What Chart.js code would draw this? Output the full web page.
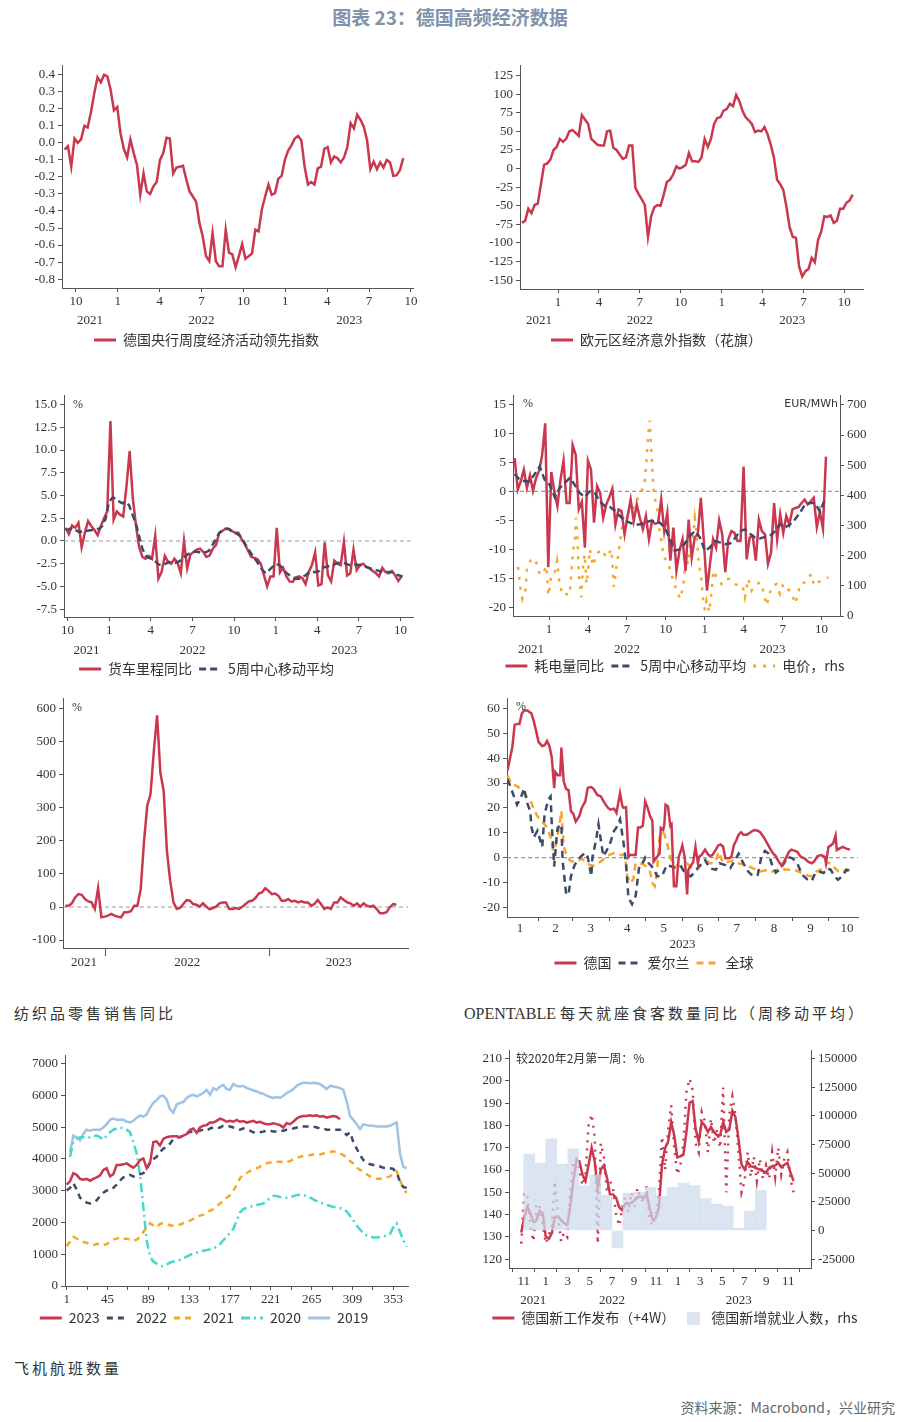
<!DOCTYPE html>
<html>
<head>
<meta charset="utf-8">
<script src="https://cdn.jsdelivr.net/npm/chart.js@4.4.0/dist/chart.umd.min.js"></script>
<style>
  body { margin: 0; width: 900px; height: 1422px; background: #fff; position: relative; font-family: "Noto Sans CJK SC", sans-serif; }
  .box { position: absolute; }
  .title { position: absolute; top: 3px; left: 0; width: 900px; text-align: center; font-size: 19px; font-weight: bold; color: #8092AD; }
  .cap { position: absolute; font-size: 15px; color: #333; letter-spacing: 3px; line-height: 20px; }
  .cap .lat { font-family: "Liberation Serif", serif; font-size: 16px; letter-spacing: 0; }
  .src { position: absolute; right: 5px; top: 1397px; font-size: 14px; color: #666; }
</style>
</head>
<body>
<div class="title">图表 23：德国高频经济数据</div>

<div class="box" style="left:0;top:55px;width:450px;height:302px"><canvas id="c1"></canvas></div>
<div class="box" style="left:450px;top:55px;width:450px;height:302px"><canvas id="c2"></canvas></div>
<div class="box" style="left:0;top:385px;width:450px;height:301px"><canvas id="c3"></canvas></div>
<div class="box" style="left:450px;top:385px;width:450px;height:298px"><canvas id="c4"></canvas></div>
<div class="box" style="left:0;top:688px;width:450px;height:300px"><canvas id="c5"></canvas></div>
<div class="box" style="left:450px;top:688px;width:450px;height:292px"><canvas id="c6"></canvas></div>
<div class="box" style="left:0;top:1045px;width:450px;height:290px"><canvas id="c7"></canvas></div>
<div class="box" style="left:450px;top:1040px;width:450px;height:295px"><canvas id="c8"></canvas></div>

<div class="cap" style="left:14px;top:1003px">纺织品零售销售同比</div>
<div class="cap" style="left:464px;top:1003px"><span class="lat">OPENTABLE </span>每天就座食客数量同比（周移动平均）</div>
<div class="cap" style="left:14px;top:1358px">飞机航班数量</div>
<div class="src">资料来源：Macrobond，兴业研究</div>

<script>
// 색상
const RED = "#C9384E";
const NAVY = "#3B4C6B";
const ORANGE = "#F5A72C";
const CYAN = "#47D7CC";
const LBLUE = "#9EC3E4";
const BAR = "rgba(205,219,237,0.72)";
const AXIS = "#555";

/* x축 단위: 월 (0 = 2021년 1월) */

// 1. 德国央行周度经济活动领先指数 (weekly)
const p1Start = 8.19, p1End = 32.45;
const p1Vals = [-0.04,-0.02,-0.14,0.025,0.0,0.02,0.10,0.09,0.18,0.29,0.385,0.355,0.40,0.39,0.31,0.19,0.21,0.055,-0.035,-0.085,0.02,-0.06,-0.13,-0.305,-0.18,-0.285,-0.30,-0.255,-0.23,-0.10,-0.06,0.03,0.025,-0.18,-0.145,-0.14,-0.135,-0.215,-0.285,-0.315,-0.345,-0.47,-0.55,-0.665,-0.695,-0.53,-0.695,-0.725,-0.725,-0.51,-0.645,-0.655,-0.73,-0.665,-0.595,-0.68,-0.665,-0.65,-0.51,-0.52,-0.39,-0.315,-0.245,-0.305,-0.295,-0.21,-0.195,-0.10,-0.045,-0.015,0.025,0.04,0.015,-0.14,-0.245,-0.23,-0.245,-0.15,-0.14,-0.035,-0.025,-0.115,-0.08,-0.09,-0.115,-0.085,-0.025,0.115,0.085,0.165,0.135,0.095,0.015,-0.155,-0.11,-0.155,-0.115,-0.145,-0.10,-0.115,-0.195,-0.19,-0.16,-0.09];
const p1YTicks = [-0.8,-0.7,-0.6,-0.5,-0.4,-0.3,-0.2,-0.1,0,0.1,0.2,0.3,0.4];
const p1XTicks = [9,12,15,18,21,24,27,30,33];

// 2. 欧元区经济意外指数（花旗）
const p2Start = 9.36, p2End = 33.61;
const p2Vals = [-73,-70,-54,-60,-49,-47,-21,5,7,12,25,29,40,36,40,50,52,48,44,72,66,60,40,36,32,31,31,50,51,28,25,19,13,15,31,31,-26,-34,-41,-49,-92,-64,-52,-49,-50,-35,-18,-15,-8,3,0,2,5,21,10,10,9,15,40,29,40,60,68,69,78,80,87,84,99,91,78,69,65,60,49,51,50,56,46,32,15,-15,-21,-29,-52,-79,-92,-93,-132,-145,-138,-135,-120,-126,-96,-85,-64,-65,-63,-73,-70,-54,-54,-46,-43,-35];
const p2YTicks = [-150,-125,-100,-75,-50,-25,0,25,50,75,100,125];
const p2XTicks = [12,15,18,21,24,27,30,33];

// 3. 货车里程同比 / 5周中心移动平均
const p3Start = 8.86, p3End = 33.07, p3MaEnd = 33.15;
const p3Truck = [1.45,0.75,1.7,1.45,2.0,-0.7,0.9,2.2,1.65,1.2,0.65,1.65,2.5,3.25,13.2,2.35,3.25,2.9,2.7,5.95,9.9,4.7,1.65,-0.7,-1.75,-1.95,-1.65,-1.95,0.55,-4.15,-3.4,-1.65,-2.3,-2.5,-1.95,-2.4,-3.55,0.0,-3.0,-1.5,-1.2,-0.95,-0.85,-1.2,-1.75,-1.6,-0.85,-0.45,0.9,1.1,1.35,1.35,1.1,0.9,0.9,0.2,-0.35,-1.05,-1.75,-1.85,-2.0,-2.5,-3.75,-5.0,-3.9,-3.9,1.45,-3.45,-2.95,-3.9,-4.45,-4.5,-4.0,-3.9,-4.1,-4.75,-3.4,-2.65,-1.25,-4.9,-4.75,-0.15,-3.75,-4.45,-2.15,-2.5,-2.65,-0.1,-3.8,-3.55,-0.95,-3.2,-2.65,-2.5,-2.85,-3.0,-3.3,-3.55,-3.9,-2.95,-3.4,-3.55,-3.3,-3.75,-4.4,-3.9];
const p3Ma = [1.2,1.3,1.45,1.2,1.0,1.05,1.1,1.15,1.2,1.3,1.35,1.65,2.5,4.3,4.75,4.7,4.35,4.15,4.3,3.95,2.9,2.0,0.55,-0.85,-1.6,-1.85,-2.0,-2.3,-2.6,-2.65,-2.5,-2.3,-2.4,-2.4,-2.25,-1.95,-1.6,-1.4,-1.25,-1.15,-1.25,-1.25,-1.25,-1.05,-0.45,0.2,0.85,1.2,1.35,1.3,1.0,0.85,0.65,0.2,-0.45,-1.05,-1.6,-2.1,-2.65,-3.2,-3.55,-3.2,-2.85,-2.5,-2.65,-2.95,-3.45,-3.75,-4.0,-4.15,-4.15,-3.9,-3.75,-3.4,-3.4,-3.4,-3.3,-2.95,-2.85,-2.75,-2.65,-2.5,-2.4,-2.4,-2.5,-2.65,-2.65,-2.6,-2.65,-2.75,-2.85,-2.95,-3.1,-3.2,-3.3,-3.4,-3.4,-3.4,-3.45,-3.7,-3.8,-3.9];
const p3YTicks = [-7.5,-5,-2.5,0,2.5,5,7.5,10,12.5,15];
const p3XTicks = [9,12,15,18,21,24,27,30,33];

// 4. 耗电量同比 / 5周中心移动平均 / 电价 (rhs)
const p4Start = 9.35, p4End = 33.34, p4MaEnd = 33.26;
const p4Power = [5.75,0.3,1.75,3.75,0.6,2.75,0.1,2.3,3.55,6.3,11.75,-13.1,3.35,0.0,-2.55,2.0,5.3,-2.0,-2.0,8.0,6.3,-3.1,-1.8,-9.7,5.3,3.75,-5.4,0.9,-0.25,-4.55,-2.25,-1.0,0.45,-5.7,-3.1,-3.4,-7.4,-4.25,-1.4,-5.1,-2.25,-4.55,-6.55,-4.25,-8.25,-5.1,-5.6,-5.4,-1.4,-6.85,-3.7,-11.95,-6.25,-13.7,-10.25,-8.25,-13.7,-4.85,-11.4,-7.95,-7.4,-1.1,-8.8,-17.1,-12.5,-8.25,-9.7,-5.0,-7.4,-13.95,-8.25,-6.85,-7.15,-8.55,-8.55,4.3,-11.7,-7.95,-7.7,-11.95,-4.85,-6.85,-7.4,-12.5,-10.55,-2.0,-8.25,-3.95,-7.15,-4.25,-5.7,-3.1,-2.85,-2.7,-2.0,-1.4,-2.25,-1.7,-1.1,-6.15,-3.5,-6.4,6.0];
const p4Ma = [3.0,2.0,1.75,1.75,3.0,4.3,2.0,1.15,-1.0,0.6,1.45,2.3,1.15,-0.25,-1.0,0.0,-0.25,-1.7,-2.55,-2.7,-3.3,-4.25,-5.0,-5.4,-5.7,-5.7,-5.4,-5.1,-5.1,-5.4,-6.25,-8.25,-10.25,-9.95,-9.0,-7.7,-6.85,-7.95,-10.25,-9.7,-8.55,-8.8,-9.1,-9.0,-8.1,-6.85,-6.55,-7.3,-7.95,-8.1,-7.85,-7.7,-6.85,-5.7,-6.25,-5.7,-4.85,-3.7,-2.25,-2.0,-2.0,-3.5,-1.4];
const p4PriceMonths = [9.61,9.79,9.94,10.20,10.30,10.56,10.82,11.07,11.28,11.54,11.79,11.95,12.18,12.44,12.62,12.82,13.08,13.34,13.59,13.72,13.85,13.98,14.06,14.16,14.29,14.49,14.62,14.75,14.88,15.01,15.14,15.39,15.65,16.04,16.42,16.81,16.99,17.19,17.32,17.58,17.71,17.96,18.22,18.48,18.74,18.99,19.25,19.38,19.51,19.64,19.76,19.89,20.02,20.15,20.33,20.48,20.64,20.84,21.10,21.36,21.56,21.82,22.08,22.33,22.54,22.72,22.85,23.11,23.23,23.36,23.49,23.62,23.75,23.88,24.01,24.13,24.34,24.52,24.65,24.90,25.29,25.55,25.93,26.32,26.58,26.91,27.09,27.35,27.60,27.86,28.25,28.50,28.76,28.97,29.15,29.53,29.79,30.05,30.35,30.69,30.95,31.20,31.33,31.72,31.97,32.23,32.41,32.75,33.00,33.52];
const p4Price = [163,93,57,90,161,183,192,172,137,141,166,68,139,145,183,101,68,73,71,145,216,249,325,287,139,62,166,205,106,150,221,166,205,221,194,221,97,166,199,281,325,303,364,358,380,407,424,451,517,599,648,544,435,391,358,292,254,194,183,150,117,87,57,95,194,172,227,265,325,281,194,156,117,51,19,51,13,79,150,130,106,123,123,106,101,101,62,123,84,101,112,84,35,68,97,106,73,106,90,79,41,71,106,112,128,139,101,112,119,128];
const p4YTicks = [-20,-15,-10,-5,0,5,10,15];
const p4Y1Ticks = [0,100,200,300,400,500,600,700];
const p4XTicks = [12,15,18,21,24,27,30,33];

// 5. 纺织品零售销售同比
const p5Start = 9.08, p5End = 33.3;
const p5Vals = [4,4,11,29,39,37,24,17,14,-6,57,-31,-29,-26,-21,-26,-29,-31,-16,-16,-13,4,4,54,198,307,342,471,580,406,352,168,79,14,-6,-3,9,21,19,9,7,1,11,1,-7,-3,1,11,14,14,-6,-6,-3,-6,1,9,17,19,27,41,44,57,49,39,41,34,19,19,24,17,19,14,17,14,14,4,9,21,9,-6,-1,-6,14,14,29,21,14,11,4,11,1,11,4,1,4,-6,-19,-19,-16,-1,9,7];
const p5YTicks = [-100,0,100,200,300,400,500,600];
const p5XTicks = [12,24];

// 6. OpenTable (day of year 2023)
const p6DeDays = [6,8,10,12,14,16,18,20,23,26,28,30,32,35,37,39,41,43,45,46,48,50,51,53,55,57,59,61,63,66,68,71,73,76,78,81,84,87,90,92,95,97,100,102,103,105,107,108,111,113,115,117,119,121,123,125,127,128,131,133,134,136,137,138,140,142,143,145,147,149,151,152,154,156,157,159,161,163,165,166,168,171,173,175,177,180,182,184,186,188,191,193,195,197,199,201,203,206,209,212,215,217,220,223,226,228,230,232,235,237,239,241,243,246,248,251,254,257,260,262,265,268,271,272,274,276,278,280,281,283,286,289,292];
const p6De = [35.1,39.7,44.3,53.4,53.8,53.8,58.0,59.3,59.1,58.0,54.8,50.8,46.5,44.9,45.2,46.9,44.9,40.3,27.9,34.4,33.1,33.1,44.3,30.5,27.6,27.2,18.7,17.6,14.5,16.7,20.0,22.6,28.1,28.4,27.6,25.2,24.6,22.0,20.0,19.3,19.7,18.0,25.9,20.7,20.0,20.3,0.3,1.0,1.0,1.0,12.1,12.1,12.8,22.6,20.0,16.7,14.8,-1.6,0.3,1.6,11.9,11.1,13.4,21.3,20.7,12.8,13.4,-11.5,-11.5,0.3,3.0,4.9,0.3,-14.8,-4.9,-3.3,-2.0,4.3,-2.3,0.3,1.0,3.2,1.6,0.6,1.0,3.2,4.9,5.3,4.5,-0.3,-0.3,0.3,4.9,6.9,9.2,10.2,9.2,9.2,10.2,11.1,10.8,10.2,8.2,5.6,3.0,1.6,0.6,-1.2,-3.3,-1.6,0.3,2.3,3.2,2.7,2.3,0.3,-0.3,-1.6,-2.3,-1.6,0.6,1.0,0.3,-2.3,4.3,4.9,5.8,8.9,3.0,3.6,4.3,3.6,3.2];
const p6IeDays = [6,8,11,14,17,20,22,25,26,28,31,33,35,37,40,42,43,45,47,48,51,52,55,57,59,62,65,67,71,73,76,77,80,82,84,86,89,92,95,97,100,103,105,107,110,113,116,118,121,124,128,131,135,139,143,147,151,155,159,163,167,171,175,180,183,188,192,196,199,203,207,211,215,218,221,224,227,230,233,237,240,244,248,252,256,260,263,266,270,273,276,279,282,286,289,292];
const p6Ie = [31.5,29.2,25.2,21.3,23.9,27.9,22.6,18.7,12.4,8.2,10.8,7.5,4.3,17.4,23.3,24.6,13.4,-3.6,8.2,12.1,13.4,-1.0,-14.8,-14.8,-7.5,-3.0,-1.0,0.3,2.0,0.3,-7.5,0.3,7.1,13.4,6.9,0.6,3.0,6.2,10.8,12.1,15.4,5.6,-2.3,-16.1,-18.7,-15.4,-3.6,-3.0,0.0,-2.3,-4.3,-7.5,-7.5,-3.0,-3.6,-4.3,-3.6,-6.9,-7.5,-5.6,-3.0,-1.0,-4.3,-4.9,-2.3,-3.0,-4.3,-1.0,1.6,-2.3,-5.6,-7.5,-6.9,0.3,2.7,1.6,-3.0,-6.0,-4.9,-2.3,0.3,-0.3,-2.3,-6.9,-8.6,-9.5,-6.2,-5.6,-6.2,-4.3,-4.9,-7.5,-8.9,-7.3,-4.9,-5.6];
const p6GlDays = [6,9,12,15,17,20,23,26,28,31,34,37,39,42,43,45,47,49,51,52,53,56,58,60,63,66,68,72,75,78,82,85,88,92,95,98,101,104,106,108,111,113,116,119,122,125,127,129,131,133,135,137,140,142,145,147,150,153,156,160,163,166,170,173,176,180,182,185,187,191,194,197,201,204,207,211,214,217,221,224,227,231,234,237,241,244,247,251,254,257,261,264,267,271,273,276,278,281,283,286,289,292];
const p6Gl = [33.1,29.8,29.2,28.5,27.2,25.9,23.9,22.0,19.3,16.7,14.8,13.4,12.1,8.2,5.6,0.3,6.9,12.1,18.7,12.1,4.3,0.3,-1.0,-1.6,-1.6,-1.0,-0.3,-2.3,-3.0,-3.3,-2.3,-1.2,0.3,1.3,1.8,1.6,1.0,1.0,-7.5,-10.2,-8.9,-2.3,-2.3,-2.6,-3.6,-5.6,-10.2,-11.5,-4.9,8.2,10.2,9.5,4.3,-0.3,-2.0,-3.0,-3.6,-3.3,-2.3,-4.3,-4.7,-3.6,-2.3,-1.6,-2.3,-1.6,2.3,-1.0,-2.3,-1.6,-1.2,-2.0,-2.6,-2.6,-3.3,-4.3,-4.9,-5.6,-5.2,-4.9,-5.6,-4.9,-4.9,-4.7,-4.9,-4.9,-5.2,-6.0,-6.5,-7.3,-7.5,-5.6,-4.9,-3.9,-2.0,-2.3,-3.6,-4.9,-6.0,-5.6,-4.9,-4.9];
const p6YTicks = [-20,-10,0,10,20,30,40,50,60];
const p6MonthStarts = [1,32,60,91,121,152,182,213,244,274,305];
const p6MonthLabels = ["1","2","3","4","5","6","7","8","9","10"];

// 7. 飞机航班数量 (day of year)
const p7Days = { y2023: [1, 295.5], y2022: [1, 367.4], y2021: [1, 367.4], y2020: [4.6, 367.4], y2019: [4.6, 367.4] };
const p7Y2023 = [3190,3295,3550,3500,3375,3345,3375,3315,3375,3420,3480,3655,3705,3450,3520,3810,3810,3830,3860,3790,3725,3810,3965,4015,3705,3860,4530,4550,4425,4630,4685,4705,4715,4715,4685,4735,4785,4920,4960,4820,4990,5045,5065,5145,5145,5200,5270,5230,5170,5200,5170,5230,5170,5190,5145,5170,5200,5145,5170,5125,5095,5095,5125,5095,5065,4990,5125,5095,5170,5270,5330,5350,5350,5375,5350,5375,5330,5350,5300,5330,5350,5330,5250];
const p7Y2022 = [3005,3090,3240,3035,2780,2700,2625,2595,2625,2700,2830,2935,3005,3005,3090,3190,3315,3420,3450,3500,3450,3450,3520,3550,3655,3910,3995,4065,4220,4325,4375,4480,4630,4685,4685,4735,4785,4860,4840,4860,4890,4920,4890,4960,4990,4960,4990,5045,5045,5020,4990,4960,4920,4960,4920,4890,4840,4820,4840,4860,4890,4890,4860,4860,4890,4890,4920,4920,4960,4990,5020,5020,5020,5020,5020,4990,4960,4960,4920,4920,4920,4920,4920,4860,4755,4840,4530,4325,4120,3965,3890,3830,3810,3790,3760,3725,3705,3705,3685,3550,3295,3110,3090];
const p7Y2021 = [1255,1390,1545,1490,1460,1390,1360,1320,1285,1320,1320,1285,1320,1390,1460,1490,1525,1490,1490,1460,1420,1460,1545,1700,1855,1975,1905,1855,1955,1975,1955,1905,1905,1905,1935,1975,2005,2060,2110,2160,2215,2245,2315,2370,2420,2520,2595,2700,2780,2860,3005,3190,3395,3500,3550,3625,3655,3705,3760,3810,3860,3890,3890,3910,3910,3890,3910,3930,3995,4035,4065,4095,4095,4120,4140,4140,4140,4170,4200,4220,4240,4200,4170,4120,4035,3930,3860,3725,3655,3605,3520,3450,3395,3375,3375,3395,3420,3450,3550,3605,3345,3035,2935];
const p7Y2020 = [4065,4530,4630,4685,4685,4655,4685,4715,4735,4685,4610,4735,4840,4920,4960,4990,4960,4920,4840,4530,4170,3500,2470,1440,925,770,700,640,620,670,740,770,805,825,875,925,980,1030,1050,1080,1110,1130,1155,1185,1235,1320,1440,1565,1670,1800,2060,2315,2420,2470,2490,2520,2555,2575,2595,2675,2760,2830,2830,2800,2780,2780,2800,2830,2860,2880,2860,2830,2780,2730,2675,2625,2595,2555,2520,2490,2470,2450,2420,2345,2215,2060,1905,1770,1670,1595,1565,1525,1525,1545,1565,1595,1645,1855,1975,1700,1440,1235];
const p7Y2019 = [4220,4735,4680,4580,4790,4920,4890,4920,4920,4920,4990,5095,5230,5270,5230,5230,5230,5170,5150,5200,5300,5370,5330,5400,5610,5765,5850,5970,5990,5870,5560,5455,5715,5765,5790,5920,5990,6020,5970,6020,6075,6175,6020,6230,6175,6280,6330,6200,6175,6360,6300,6280,6300,6230,6200,6155,6125,6075,6050,5990,5950,5920,5950,5920,5990,6075,6125,6200,6300,6360,6400,6400,6380,6400,6380,6360,6280,6200,6300,6280,6260,6230,6175,5815,5350,5230,5095,4940,5095,5065,5045,5045,5020,5020,5020,5020,5045,5100,5150,4150,3760,3705];
const p7YTicks = [0,1000,2000,3000,4000,5000,6000,7000];
const p7XTicks = [1,23,45,67,89,111,133,155,177,199,221,243,265,287,309,331,353];

// 8. 德国新工作发布（+4W）/ 德国新增就业人数 (rhs, monthly from 2021-11)
const p8Start = 9.78, p8End = 34.47;
const p8Jobs = [132.0,139.0,143.4,140.5,136.8,137.6,141.7,140.5,130.2,129.1,131.7,139.0,139.0,137.6,136.1,135.4,143.4,155.1,163.9,163.9,158.0,155.1,162.4,170.0,163.9,151.5,160.2,162.1,156.6,149.0,149.0,147.5,143.4,141.9,144.9,144.9,145.2,146.3,147.8,148.1,147.5,149.3,142.7,137.6,138.4,143.4,162.4,169.8,172.7,181.5,175.6,165.7,166.1,166.9,177.1,190.2,191.0,178.5,172.7,181.5,180.0,177.1,179.3,177.1,175.6,175.6,181.5,177.1,178.2,186.6,183.7,174.1,162.4,160.2,163.6,161.7,161.3,160.7,160.2,159.5,158.8,161.0,161.7,162.1,163.2,161.3,162.4,163.2,158.8,155.1];
const p8JobsRaw = [127,150,148,135,128,145,144,136,127,131,134,155,140,128,132,130,150,164,165,160,153,158,180,185,175,127,172,166,150,155,152,140,135,143,148,141,150,143,152,147,146,153,137,135,141,150,175,160,178,189,170,158,162,172,195,201,196,172,168,186,182,168,183,172,178,170,197,150,185,193,185,168,150,155,168,157,166,155,165,156,162,156,168,157,170,158,165,168,156,150];
const p8EmpFirstMonth = 10; // 2021-11
const p8Emp = [66800,58900,80000,58000,71400,39000,48600,30700,-15100,32700,33500,37800,29900,37800,41500,39300,27900,23000,21300,2000,17000,35000];
const p8YTicks = [120,130,140,150,160,170,180,190,200,210];
const p8Y1Ticks = [-25000,0,25000,50000,75000,100000,125000,150000];
const p8XTicks = [10,12,14,16,18,20,22,24,26,28,30,32,34];

/* 공통 헬퍼 */
function even(start, end, vals) {
  const step = (end - start) / (vals.length - 1);
  return vals.map((v, i) => ({ x: start + i * step, y: v }));
}
function pairs(xs, ys) {
  return ys.map((v, i) => ({ x: xs[i], y: v }));
}
const tickFont = { family: '"Liberation Serif", serif', size: 13 };
const monthNo = (v) => String((((v % 12) + 12) % 12) + 1);

function xAxis(min, max, ticks, fmt, h, tickLen) {
  return {
    type: "linear", min: min, max: max,
    afterBuildTicks: (s) => { s.ticks = ticks.map((v) => ({ value: v })); },
    afterFit: (s) => { s.height = h; },
    grid: { drawOnChartArea: false, tickLength: tickLen || 4, color: AXIS },
    border: { color: AXIS },
    ticks: { autoSkip: false, maxRotation: 0, padding: 2, color: "#333", font: tickFont, callback: fmt },
  };
}
function yAxis(min, max, ticks, fmt, w, pos) {
  return {
    type: "linear", position: pos || "left", min: min, max: max,
    afterBuildTicks: (s) => { s.ticks = ticks.map((v) => ({ value: v })); },
    afterFit: (s) => { s.width = w; },
    grid: { drawOnChartArea: false, tickLength: 4, color: AXIS },
    border: { color: AXIS },
    ticks: { autoSkip: false, padding: 3, color: "#333", font: tickFont, callback: fmt },
  };
}
function line(label, data, color, dash, axis, order) {
  return {
    type: "line", label: label, data: data, borderColor: color, backgroundColor: color,
    borderWidth: 2.5, borderDash: dash || [], pointRadius: 0, tension: 0, fill: false,
    yAxisID: axis || "y", order: order || 0,
  };
}

// 막대 범례용 작은 사각형
const barSwatch = document.createElement("canvas");
barSwatch.width = 13; barSwatch.height = 13;
barSwatch.getContext("2d").fillStyle = "#DCE5F1";
barSwatch.getContext("2d").fillRect(0, 0, 13, 13);

// 범례: 선 스타일(점선 포함) 그대로 그리기
function legendItems(chart) {
  return chart.data.datasets
    .map((ds, i) => ({
      text: ds.label, datasetIndex: i, fontColor: "#333", hidden: false,
      fillStyle: "rgba(0,0,0,0)", strokeStyle: ds.borderColor,
      lineWidth: ds.type === "bar" ? 0 : 3, lineDash: ds.borderDash || [],
      pointStyle: ds.type === "bar" ? barSwatch : "line",
    }))
    .filter((it) => !chart.data.datasets[it.datasetIndex].noLegend);
}

/* 플러그인: 연도 라벨, 월 라벨, 0선, 메모 */
const yearPlugin = {
  id: "yearLabels",
  afterDraw(chart, args, opts) {
    if (!opts.years) return;
    const xs = chart.scales.x, ctx = chart.ctx;
    ctx.save();
    ctx.font = '13px "Liberation Serif", serif';
    ctx.fillStyle = "#333"; ctx.textAlign = "center"; ctx.textBaseline = "middle";
    opts.years.forEach((yr) => {
      const s = Math.max((yr - 2021) * 12, xs.min), e = Math.min((yr - 2020) * 12, xs.max);
      if (e <= s) return;
      ctx.fillText(String(yr), xs.getPixelForValue((s + e) / 2), chart.chartArea.bottom + opts.offset);
    });
    ctx.restore();
  },
};
const monthPlugin = {
  id: "monthLabels",
  afterDraw(chart, args, opts) {
    if (!opts.starts) return;
    const xs = chart.scales.x, ctx = chart.ctx, b = chart.chartArea.bottom;
    ctx.save();
    ctx.font = '13px "Liberation Serif", serif';
    ctx.fillStyle = "#333"; ctx.textAlign = "center"; ctx.textBaseline = "middle";
    opts.labels.forEach((t, i) => {
      ctx.fillText(t, xs.getPixelForValue((opts.starts[i] + opts.starts[i + 1]) / 2), b + opts.offset);
    });
    ctx.fillText(opts.year, xs.getPixelForValue((xs.min + xs.max) / 2), b + opts.yearOffset);
    ctx.restore();
  },
};
const refLinePlugin = {
  id: "refLine",
  beforeDatasetsDraw(chart, args, opts) {
    if (opts.value === undefined) return;
    const a = chart.chartArea, y = chart.scales.y.getPixelForValue(opts.value), ctx = chart.ctx;
    ctx.save();
    ctx.strokeStyle = "#999"; ctx.lineWidth = 1.2; ctx.setLineDash([4, 3]);
    ctx.beginPath(); ctx.moveTo(a.left, y); ctx.lineTo(a.right, y); ctx.stroke();
    ctx.restore();
  },
};
const notesPlugin = {
  id: "notes",
  afterDraw(chart, args, opts) {
    const a = chart.chartArea, ctx = chart.ctx;
    (opts.items || []).forEach((n) => {
      ctx.save();
      ctx.font = n.font; ctx.fillStyle = "#333"; ctx.textBaseline = "middle";
      ctx.textAlign = n.right ? "right" : "left";
      ctx.fillText(n.text, n.right ? a.right + n.dx : a.left + n.dx, a.top + n.dy);
      ctx.restore();
    });
  },
};

function makeChart(id, cfg) {
  return new Chart(document.getElementById(id), {
    type: "line",
    data: { datasets: cfg.datasets },
    options: {
      responsive: true, maintainAspectRatio: false, animation: false, events: [],
      layout: { padding: cfg.padding },
      scales: cfg.scales,
      plugins: {
        legend: {
          display: cfg.legend !== false, position: "bottom",
          labels: {
            usePointStyle: true, pointStyleWidth: 22, padding: 7, color: "#333",
            font: { family: '"Noto Sans CJK SC", sans-serif', size: 14 },
            generateLabels: legendItems,
          },
        },
        tooltip: { enabled: false },
        yearLabels: cfg.years || {},
        monthLabels: cfg.months || {},
        refLine: cfg.refLine || {},
        notes: { items: cfg.notes || [] },
      },
    },
    plugins: [yearPlugin, monthPlugin, refLinePlugin, notesPlugin],
  });
}

const pctNote = (dx, dy) => ({ text: "%", dx: dx, dy: dy, font: '12px "Liberation Serif", serif' });

// 1
makeChart("c1", {
  padding: { top: 10, right: 37, left: 0, bottom: 0 },
  datasets: [line("德国央行周度经济活动领先指数", even(p1Start, p1End, p1Vals), RED)],
  scales: {
    x: xAxis(8.0, 33.15, p1XTicks, monthNo, 38),
    y: yAxis(-0.852, 0.452, p1YTicks, (v) => v.toFixed(1), 62),
  },
  years: { years: [2021, 2022, 2023], offset: 33 },
});

// 2
makeChart("c2", {
  padding: { top: 8, right: 37, left: 0, bottom: 0 },
  datasets: [line("欧元区经济意外指数（花旗）", even(p2Start, p2End, p2Vals), RED)],
  scales: {
    x: xAxis(9.21, 34.37, p2XTicks, monthNo, 37),
    y: yAxis(-161.9, 138.2, p2YTicks, (v) => String(v), 70),
  },
  years: { years: [2021, 2022, 2023], offset: 32 },
});

// 3
makeChart("c3", {
  padding: { top: 7, right: 37, left: 0, bottom: 0 },
  datasets: [
    line("货车里程同比", even(p3Start, p3End, p3Truck), RED, [], "y", 1),
    line("5周中心移动平均", even(p3Start, p3MaEnd, p3Ma), NAVY, [7, 4], "y", 0),
  ],
  scales: {
    x: xAxis(8.74, 33.9, p3XTicks, monthNo, 38),
    y: yAxis(-8.36, 15.97, p3YTicks, (v) => v.toFixed(1), 64),
  },
  years: { years: [2021, 2022, 2023], offset: 34 },
  refLine: { value: 0 },
  notes: [pctNote(9, 9)],
});

// 4
makeChart("c4", {
  padding: { top: 10, right: 0, left: 0, bottom: 0 },
  datasets: [
    line("耗电量同比", even(p4Start, p4End, p4Power), RED, [], "y", 1),
    line("5周中心移动平均", even(p4Start, p4MaEnd, p4Ma), NAVY, [7, 4], "y", 0),
    line("电价，rhs", pairs(p4PriceMonths, p4Price), ORANGE, [3, 7], "y1", 2),
  ],
  scales: {
    x: xAxis(9.22, 34.42, p4XTicks, monthNo, 36),
    y: yAxis(-21.5, 16.5, p4YTicks, (v) => String(v), 63),
    y1: yAxis(0, 730, p4Y1Ticks, (v) => String(v), 60, "right"),
  },
  years: { years: [2021, 2022, 2023], offset: 34 },
  refLine: { value: 0 },
  notes: [pctNote(10, 8), { text: "EUR/MWh", dx: -2, dy: 8, right: true, font: '11px "DejaVu Sans", sans-serif' }],
});

// 5
makeChart("c5", {
  padding: { top: 7, right: 42, left: 0, bottom: 0 },
  legend: false,
  datasets: [line("纺织品零售销售同比", even(p5Start, p5End, p5Vals), RED)],
  scales: {
    x: xAxis(8.91, 34.15, p5XTicks, () => "", 40, 8),
    y: yAxis(-124, 630, p5YTicks, (v) => String(v), 63),
  },
  years: { years: [2021, 2022, 2023], offset: 15 },
  refLine: { value: 0 },
  notes: [pctNote(9, 9)],
});

// 6
makeChart("c6", {
  padding: { top: 7, right: 42, left: 0, bottom: 0 },
  datasets: [
    line("德国", pairs(p6DeDays, p6De), RED, [], "y", 0),
    line("爱尔兰", pairs(p6IeDays, p6Ie), NAVY, [7, 5], "y", 1),
    line("全球", pairs(p6GlDays, p6Gl), ORANGE, [7, 5], "y", 2),
  ],
  scales: {
    x: xAxis(5.6, 298.7, p6MonthStarts.slice(1, 10), () => "", 32),
    y: yAxis(-23.9, 63.9, p6YTicks, (v) => String(v), 57),
  },
  months: { starts: p6MonthStarts, labels: p6MonthLabels, offset: 12, year: "2023", yearOffset: 28 },
  refLine: { value: 0 },
  notes: [pctNote(9, 8)],
});

// 7
makeChart("c7", {
  padding: { top: 7, right: 42, left: 0, bottom: 0 },
  datasets: [
    line("2023", even(p7Days.y2023[0], p7Days.y2023[1], p7Y2023), RED, [], "y", 0),
    line("2022", even(p7Days.y2022[0], p7Days.y2022[1], p7Y2022), NAVY, [6, 5], "y", 1),
    line("2021", even(p7Days.y2021[0], p7Days.y2021[1], p7Y2021), ORANGE, [6, 5], "y", 2),
    line("2020", even(p7Days.y2020[0], p7Days.y2020[1], p7Y2020), CYAN, [9, 4, 2, 4], "y", 3),
    line("2019", even(p7Days.y2019[0], p7Days.y2019[1], p7Y2019), LBLUE, [], "y", 4),
  ],
  scales: {
    x: xAxis(-0.8, 368.8, p7XTicks, (v) => ((v - 1) % 44 === 0 ? String(v) : ""), 18),
    y: yAxis(0, 7247, p7YTicks, (v) => String(v), 65),
  },
});

// 8
const p8Bars = p8Emp.map((v, i) => ({ x: p8EmpFirstMonth + i + 0.5, y: v }));
const rawDs = line("_raw", even(p8Start, p8End, p8JobsRaw), RED, [2, 6], "y", 2);
rawDs.noLegend = true;
makeChart("c8", {
  padding: { top: 7, right: 0, left: 0, bottom: 0 },
  datasets: [
    line("德国新工作发布（+4W）", even(p8Start, p8End, p8Jobs), RED, [], "y", 1),
    {
      type: "bar", label: "德国新增就业人数，rhs", data: p8Bars, yAxisID: "y1", order: 0,
      backgroundColor: BAR, borderWidth: 0, barPercentage: 1, categoryPercentage: 1,
    },
    rawDs,
  ],
  scales: {
    x: xAxis(9.72, 35.0, p8XTicks, monthNo, 36),
    y: yAxis(116.05, 213.5, p8YTicks, (v) => String(v), 59),
    y1: yAxis(-32683, 156830, p8Y1Ticks, (v) => String(v), 89, "right"),
  },
  years: { years: [2021, 2022, 2023], offset: 33 },
  notes: [{ text: "较2020年2月第一周：%", dx: 7, dy: 8, font: '12px "Noto Sans CJK SC", sans-serif' }],
});
</script>
</body>
</html>
